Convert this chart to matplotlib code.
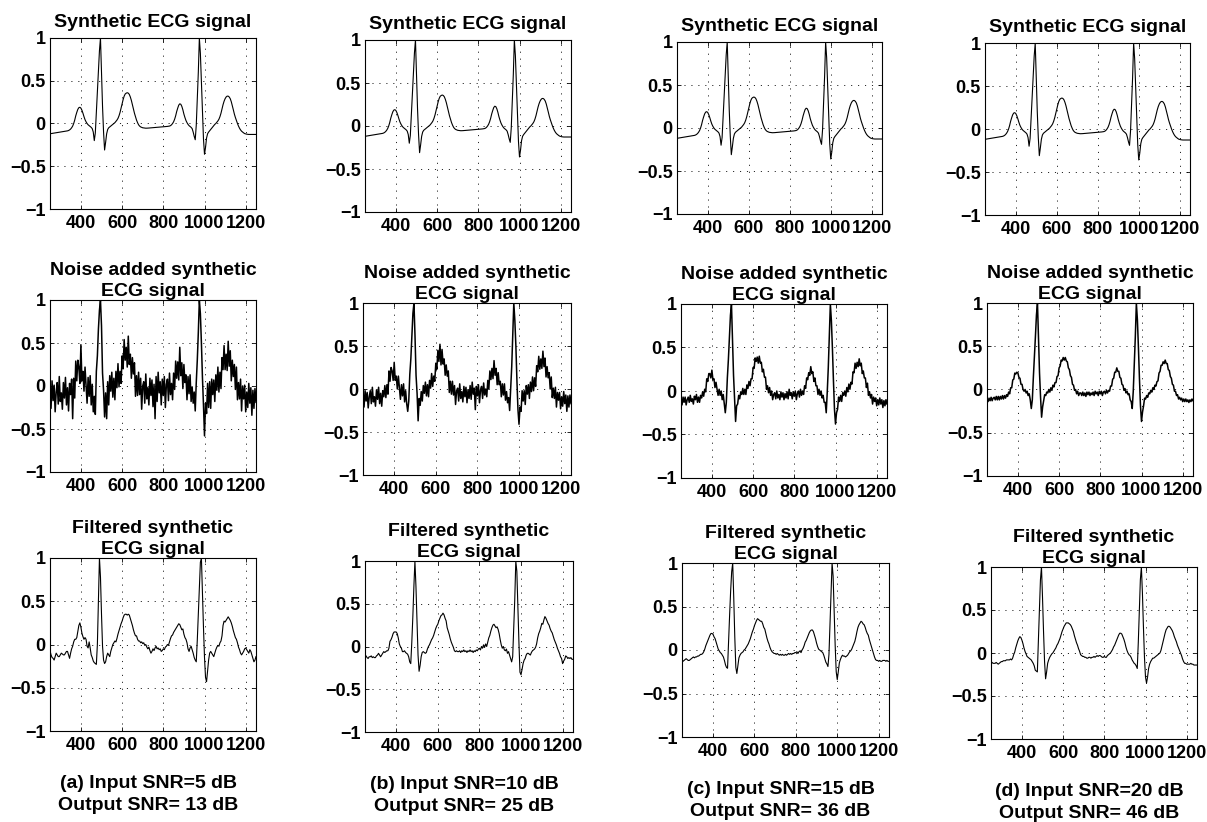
import numpy as np
import matplotlib.pyplot as plt

plt.rcParams['font.family'] = ['Liberation Sans', 'DejaVu Sans']
plt.rcParams['font.weight'] = 'bold'
plt.rcParams['lines.scale_dashes'] = False

# sample axis (one reading every 5 samples)
t = np.arange(250, 1251, 5)

# synthetic ECG (same in all four columns)
clean = [
    -0.12, -0.118, -0.116, -0.114, -0.112, -0.11, -0.108, -0.106, -0.104, -0.102, -0.10, -0.098, -0.096, -0.094, -0.092, -0.09, -0.088, -0.086, -0.082, -0.075,
    -0.065, -0.05, -0.03, 0.0, 0.04, 0.09, 0.13, 0.165, 0.185, 0.19, 0.18, 0.155, 0.12, 0.08, 0.045, 0.02, 0.0, -0.015, -0.025, -0.035,
    -0.045, -0.06, -0.1, -0.2, -0.11, 0.13, 0.37, 0.61, 0.85, 1.0, 0.6, 0.2, -0.1, -0.31, -0.22, -0.12, -0.07, -0.05, -0.04, -0.03,
    -0.02, -0.01, 0.0, 0.01, 0.025, 0.04, 0.06, 0.09, 0.13, 0.18, 0.23, 0.28, 0.32, 0.345, 0.355, 0.36, 0.355, 0.34, 0.31, 0.27,
    0.22, 0.17, 0.12, 0.08, 0.04, 0.01, -0.015, -0.03, -0.04, -0.045, -0.05, -0.052, -0.054, -0.055, -0.055, -0.054, -0.053, -0.052, -0.051, -0.05,
    -0.049, -0.048, -0.047, -0.046, -0.045, -0.044, -0.043, -0.042, -0.041, -0.04, -0.039, -0.038, -0.037, -0.036, -0.034, -0.032, -0.03, -0.025, -0.015, 0.0,
    0.02, 0.05, 0.09, 0.14, 0.18, 0.215, 0.23, 0.225, 0.2, 0.16, 0.11, 0.07, 0.035, 0.01, -0.01, -0.025, -0.035, -0.045, -0.06, -0.1,
    -0.15, -0.19, -0.02, 0.28, 0.6, 1.0, 0.82, 0.48, 0.14, -0.18, -0.36, -0.28, -0.17, -0.12, -0.1, -0.085, -0.07, -0.055, -0.04, -0.025,
    -0.01, 0.0, 0.015, 0.03, 0.05, 0.08, 0.12, 0.17, 0.22, 0.26, 0.29, 0.31, 0.32, 0.32, 0.31, 0.29, 0.255, 0.21, 0.16, 0.11,
    0.07, 0.035, 0.0, -0.03, -0.055, -0.075, -0.09, -0.1, -0.11, -0.118, -0.122, -0.125, -0.127, -0.128, -0.128, -0.128, -0.128, -0.128, -0.128, -0.128,
    -0.128,
]

noisy_5db = [
    -0.04, -0.26, 0.06, -0.17, 0.01, -0.30, -0.07, 0.04, -0.21, 0.11, -0.18, -0.08, -0.27, 0.04, -0.14, 0.10, -0.22, -0.02, -0.29, 0.03,
    -0.10, 0.08, -0.38, 0.09, -0.14, 0.29, 0.06, 0.30, 0.22, 0.03, 0.48, 0.06, 0.17, -0.06, 0.22, 0.00, -0.20, 0.10, -0.12, 0.12,
    -0.22, 0.02, -0.30, -0.12, -0.33, 0.17, 0.35, 0.66, 0.88, 1.0, 0.7, 0.15, -0.05, -0.36, -0.08, -0.38, 0.05, -0.22, 0.12, -0.06,
    0.16, -0.13, 0.09, -0.16, 0.17, -0.02, 0.26, -0.01, 0.17, 0.03, 0.35, 0.2, 0.54, 0.3, 0.45, 0.22, 0.58, 0.25, 0.37, 0.09,
    0.33, 0.14, 0.27, -0.12, 0.12, -0.11, 0.16, -0.1, 0.09, -0.27, 0.0, 0.05, -0.2, 0.14, -0.15, -0.02, -0.22, 0.09, -0.11, 0.07,
    -0.24, 0.02, -0.38, 0.11, -0.18, 0.16, -0.08, 0.05, -0.22, 0.08, -0.11, 0.11, -0.25, 0.02, 0.08, -0.17, 0.15, -0.1, 0.03, -0.16,
    0.15, -0.04, 0.29, 0.09, 0.28, 0.07, 0.45, 0.12, 0.27, -0.03, 0.25, 0.04, 0.13, -0.16, 0.11, -0.09, 0.13, -0.18, -0.01, -0.2,
    -0.07, -0.29, 0.04, 0.3, 0.62, 1.0, 0.84, 0.5, 0.1, -0.22, -0.58, -0.2, -0.32, 0.03, -0.25, 0.05, -0.26, 0.08, -0.1, 0.07,
    -0.18, 0.13, -0.05, 0.22, -0.07, 0.16, -0.03, 0.33, 0.19, 0.47, 0.19, 0.37, 0.18, 0.52, 0.23, 0.41, 0.06, 0.3, 0.11, 0.25,
    -0.04, 0.22, -0.16, 0.04, -0.15, 0.08, -0.29, 0.0, -0.15, 0.01, -0.3, -0.07, -0.25, 0.03, -0.2, -0.02, -0.34, -0.05, -0.26, -0.03,
    -0.19,
]

noisy_10db = [
    -0.07, -0.21, -0.02, -0.14, -0.04, -0.22, -0.09, -0.02, -0.17, 0.02, -0.15, -0.09, -0.2, -0.01, -0.12, 0.02, -0.17, -0.05, -0.2, -0.02,
    -0.09, 0.04, -0.1, 0.05, -0.06, 0.21, 0.09, 0.25, 0.21, 0.1, 0.31, 0.1, 0.15, 0.0, 0.15, 0.01, -0.12, 0.05, -0.08, 0.06,
    -0.15, -0.02, -0.17, -0.26, -0.14, 0.17, 0.35, 0.61, 0.88, 1.0, 0.62, 0.16, -0.05, -0.37, -0.11, -0.19, -0.03, -0.14, 0.04, -0.05,
    0.08, -0.08, 0.05, -0.09, 0.1, 0.01, 0.18, 0.03, 0.15, 0.09, 0.3, 0.23, 0.45, 0.32, 0.52, 0.28, 0.46, 0.29, 0.35, 0.16,
    0.28, 0.15, 0.21, -0.04, 0.09, -0.06, 0.09, -0.07, 0.04, -0.18, -0.02, 0.01, -0.14, 0.06, -0.11, -0.03, -0.15, 0.03, -0.09, 0.02,
    -0.16, -0.01, -0.11, 0.04, -0.12, 0.08, -0.06, 0.01, -0.24, 0.03, -0.08, 0.05, -0.16, -0.01, 0.03, -0.11, 0.07, -0.07, 0.0, -0.09,
    0.1, 0.0, 0.21, 0.11, 0.24, 0.12, 0.33, 0.16, 0.24, 0.05, 0.19, 0.05, 0.09, -0.09, 0.06, -0.07, 0.06, -0.13, -0.03, -0.16,
    -0.1, -0.25, 0.01, 0.26, 0.63, 1.0, 0.8, 0.5, 0.1, -0.24, -0.41, -0.21, -0.26, -0.02, -0.14, -0.02, -0.18, 0.04, -0.06, 0.05,
    -0.11, 0.08, -0.03, 0.14, -0.02, 0.13, 0.03, 0.27, 0.2, 0.38, 0.23, 0.35, 0.24, 0.44, 0.26, 0.36, 0.14, 0.26, 0.13, 0.19,
    0.0, 0.14, -0.1, 0.01, -0.11, 0.02, -0.21, -0.04, -0.13, -0.04, -0.23, -0.09, -0.2, -0.03, -0.17, -0.07, -0.26, -0.08, -0.21, -0.07,
    -0.17,
]

noisy_15db = [
    -0.09, -0.16, -0.07, -0.13, -0.07, -0.16, -0.1, -0.07, -0.13, -0.05, -0.12, -0.09, -0.15, -0.06, -0.1, -0.04, -0.13, -0.07, -0.13, -0.05,
    -0.08, -0.01, -0.06, 0.02, -0.01, 0.14, 0.11, 0.2, 0.2, 0.15, 0.24, 0.13, 0.14, 0.04, 0.1, 0.02, -0.05, 0.02, -0.05, 0.0,
    -0.1, -0.04, -0.14, -0.25, -0.13, 0.15, 0.36, 0.61, 0.87, 1.0, 0.61, 0.18, -0.08, -0.35, -0.17, -0.15, -0.05, -0.09, -0.01, -0.04,
    0.03, -0.04, 0.02, -0.04, 0.07, 0.03, 0.11, 0.06, 0.14, 0.14, 0.27, 0.26, 0.38, 0.34, 0.39, 0.32, 0.4, 0.32, 0.33, 0.22,
    0.25, 0.16, 0.16, 0.02, 0.06, -0.02, 0.04, -0.05, 0.0, -0.1, -0.04, -0.02, -0.09, 0.0, -0.08, -0.04, -0.1, -0.01, -0.07, -0.02,
    -0.1, -0.03, -0.08, -0.01, -0.09, 0.02, -0.05, -0.02, -0.09, -0.01, -0.06, 0.0, -0.1, -0.03, 0.0, -0.07, 0.02, -0.05, 0.0, -0.04,
    0.06, 0.03, 0.15, 0.13, 0.21, 0.18, 0.28, 0.2, 0.22, 0.11, 0.15, 0.06, 0.06, -0.04, 0.02, -0.05, 0.0, -0.08, -0.05, -0.13,
    -0.13, -0.25, -0.01, 0.27, 0.62, 1.0, 0.81, 0.49, 0.12, -0.21, -0.38, -0.25, -0.21, -0.07, -0.12, -0.05, -0.12, -0.02, -0.05, 0.0,
    -0.06, 0.04, -0.01, 0.08, 0.02, 0.1, 0.08, 0.22, 0.21, 0.32, 0.26, 0.33, 0.28, 0.37, 0.29, 0.32, 0.2, 0.23, 0.15, 0.15,
    0.04, 0.09, -0.05, -0.01, -0.08, -0.04, -0.15, -0.07, -0.12, -0.08, -0.17, -0.1, -0.16, -0.08, -0.15, -0.1, -0.19, -0.11, -0.17, -0.1,
    -0.15,
]

noisy_20db = [
    -0.1, -0.14, -0.1, -0.13, -0.09, -0.13, -0.1, -0.09, -0.12, -0.08, -0.12, -0.08, -0.12, -0.08, -0.11, -0.07, -0.11, -0.07, -0.1, -0.06,
    -0.08, -0.03, -0.05, 0.02, 0.02, 0.11, 0.12, 0.19, 0.18, 0.2, 0.19, 0.14, 0.13, 0.06, 0.06, 0.0, -0.02, 0.0, -0.04, -0.02,
    -0.07, -0.05, -0.12, -0.22, -0.12, 0.14, 0.37, 0.61, 0.86, 1.0, 0.6, 0.19, -0.09, -0.32, -0.2, -0.13, -0.06, -0.07, -0.03, -0.04,
    0.0, -0.03, 0.02, -0.01, 0.05, 0.03, 0.08, 0.08, 0.15, 0.16, 0.25, 0.27, 0.34, 0.33, 0.37, 0.34, 0.37, 0.33, 0.32, 0.25,
    0.23, 0.16, 0.14, 0.06, 0.05, -0.01, 0.0, -0.05, -0.02, -0.07, -0.04, -0.04, -0.07, -0.03, -0.07, -0.04, -0.08, -0.03, -0.06, -0.03,
    -0.07, -0.04, -0.06, -0.03, -0.07, -0.02, -0.05, -0.03, -0.07, -0.02, -0.05, -0.02, -0.07, -0.03, -0.02, -0.05, -0.01, -0.04, -0.01, -0.02,
    0.04, 0.04, 0.12, 0.13, 0.2, 0.2, 0.25, 0.21, 0.21, 0.14, 0.13, 0.06, 0.05, -0.01, 0.01, -0.04, -0.02, -0.06, -0.05, -0.12,
    -0.14, -0.22, -0.02, 0.28, 0.61, 1.0, 0.81, 0.49, 0.13, -0.19, -0.37, -0.26, -0.19, -0.1, -0.11, -0.07, -0.09, -0.04, -0.05, -0.01,
    -0.03, 0.02, 0.0, 0.05, 0.04, 0.09, 0.1, 0.19, 0.21, 0.28, 0.28, 0.32, 0.3, 0.34, 0.3, 0.3, 0.23, 0.22, 0.15, 0.13,
    0.06, 0.05, -0.02, -0.02, -0.07, -0.06, -0.11, -0.09, -0.12, -0.1, -0.14, -0.11, -0.14, -0.11, -0.14, -0.12, -0.15, -0.12, -0.14, -0.11,
    -0.13,
]

filtered_5db = [
    -0.07, -0.12, -0.15, -0.16, -0.18, -0.14, -0.1, -0.12, -0.14, -0.14, -0.12, -0.1, -0.11, -0.12, -0.12, -0.1, -0.08, -0.08, -0.12, -0.16,
    -0.1, -0.05, -0.02, 0.03, 0.06, 0.06, 0.08, 0.15, 0.22, 0.25, 0.2, 0.13, 0.09, 0.06, 0.08, 0.06, -0.02, -0.04, 0.03, -0.04,
    -0.12, -0.15, -0.19, -0.21, -0.22, -0.23, 0.0, 0.5, 1.0, 0.78, 0.35, -0.02, -0.18, -0.22, -0.2, -0.14, -0.1, -0.12, -0.14, -0.08,
    -0.04, 0.0, 0.02, 0.04, 0.03, 0.07, 0.12, 0.16, 0.2, 0.24, 0.27, 0.31, 0.34, 0.35, 0.35, 0.34, 0.35, 0.34, 0.3, 0.26,
    0.22, 0.17, 0.13, 0.1, 0.1, 0.06, 0.04, 0.04, 0.02, 0.03, 0.01, 0.02, -0.01, 0.0, -0.03, -0.05, -0.03, -0.07, -0.1, -0.08,
    -0.05, -0.07, -0.04, -0.02, -0.05, -0.04, -0.06, -0.05, -0.08, -0.07, -0.05, -0.06, -0.03, -0.02, 0.0, -0.01, 0.03, 0.07, 0.1, 0.11,
    0.14, 0.16, 0.18, 0.2, 0.22, 0.24, 0.23, 0.2, 0.17, 0.18, 0.12, 0.08, 0.06, 0.02, -0.05, -0.08, -0.04, -0.02, -0.06, -0.1,
    -0.15, -0.18, -0.2, 0.05, 0.35, 0.65, 0.95, 1.0, 0.6, 0.2, -0.15, -0.38, -0.43, -0.3, -0.18, -0.1, -0.08, -0.1, -0.12, -0.14,
    -0.1, -0.06, -0.03, -0.01, -0.02, 0.02, 0.04, 0.1, 0.22, 0.27, 0.26, 0.28, 0.3, 0.32, 0.3, 0.28, 0.25, 0.21, 0.16, 0.12,
    0.08, 0.06, 0.02, -0.03, -0.06, -0.1, -0.12, -0.1, -0.08, -0.05, -0.04, -0.06, -0.08, -0.1, -0.06, -0.08, -0.12, -0.16, -0.2, -0.18,
    -0.14,
]

filtered_10db = [
    -0.1, -0.11, -0.13, -0.14, -0.12, -0.12, -0.11, -0.13, -0.12, -0.13, -0.13, -0.11, -0.1, -0.08, -0.1, -0.12, -0.1, -0.08, -0.06, -0.07,
    -0.06, -0.05, -0.05, -0.02, 0.06, 0.08, 0.11, 0.15, 0.17, 0.17, 0.17, 0.15, 0.1, 0.03, 0.0, -0.02, -0.06, -0.06, -0.05, -0.07,
    -0.08, -0.09, -0.12, -0.18, -0.2, 0.05, 0.35, 0.7, 1.0, 0.7, 0.3, -0.1, -0.29, -0.22, -0.12, -0.07, -0.06, -0.07, -0.08, -0.07,
    -0.03, 0.0, 0.02, 0.05, 0.08, 0.1, 0.13, 0.17, 0.21, 0.24, 0.26, 0.3, 0.33, 0.36, 0.37, 0.39, 0.37, 0.33, 0.3, 0.22,
    0.18, 0.14, 0.09, 0.05, 0.02, -0.01, -0.05, -0.06, -0.05, -0.06, -0.06, -0.05, -0.07, -0.05, -0.06, -0.04, -0.06, -0.05, -0.07, -0.05,
    -0.06, -0.04, -0.06, -0.05, -0.07, -0.05, -0.06, -0.04, -0.05, -0.03, -0.02, -0.04, 0.0, -0.02, 0.02, -0.01, 0.03, 0.0, 0.05, 0.1,
    0.13, 0.18, 0.22, 0.25, 0.26, 0.24, 0.22, 0.23, 0.2, 0.15, 0.08, 0.02, -0.02, 0.0, -0.04, -0.05, -0.03, -0.08, -0.06, -0.1,
    -0.14, -0.18, -0.12, 0.2, 0.55, 1.0, 0.88, 0.45, 0.05, -0.3, -0.33, -0.27, -0.2, -0.16, -0.14, -0.1, -0.08, -0.08, -0.09, -0.1,
    -0.07, -0.05, -0.04, -0.03, -0.01, 0.03, 0.1, 0.15, 0.18, 0.22, 0.27, 0.26, 0.31, 0.35, 0.33, 0.3, 0.27, 0.25, 0.21, 0.18,
    0.16, 0.12, 0.08, 0.05, 0.02, -0.02, -0.05, -0.08, -0.12, -0.14, -0.2, -0.17, -0.15, -0.11, -0.12, -0.14, -0.13, -0.14, -0.13, -0.15,
    -0.15,
]

filtered_15db = [
    -0.13, -0.13, -0.12, -0.11, -0.1, -0.11, -0.12, -0.12, -0.11, -0.1, -0.09, -0.08, -0.09, -0.08, -0.08, -0.07, -0.07, -0.06, -0.05, -0.05,
    -0.04, -0.02, 0.01, 0.05, 0.08, 0.11, 0.14, 0.17, 0.19, 0.19, 0.18, 0.15, 0.13, 0.09, 0.05, 0.01, -0.01, -0.03, -0.04, -0.06,
    -0.08, -0.12, -0.17, -0.2, -0.21, 0.1, 0.4, 0.68, 0.9, 1.0, 0.6, 0.15, -0.2, -0.27, -0.18, -0.09, -0.06, -0.04, -0.03, -0.02,
    0.0, 0.01, 0.03, 0.05, 0.07, 0.1, 0.13, 0.17, 0.21, 0.24, 0.28, 0.31, 0.34, 0.36, 0.35, 0.34, 0.33, 0.33, 0.3, 0.26,
    0.24, 0.19, 0.14, 0.1, 0.07, 0.03, 0.0, -0.02, -0.03, -0.04, -0.04, -0.05, -0.04, -0.05, -0.06, -0.05, -0.06, -0.05, -0.06, -0.06,
    -0.05, -0.06, -0.05, -0.04, -0.05, -0.04, -0.05, -0.04, -0.04, -0.03, -0.03, -0.02, -0.04, -0.02, -0.01, -0.03, 0.0, 0.02, 0.05, 0.09,
    0.11, 0.14, 0.17, 0.2, 0.22, 0.23, 0.23, 0.21, 0.17, 0.13, 0.08, 0.04, 0.01, 0.0, -0.01, -0.02, -0.03, -0.06, -0.1, -0.14,
    -0.16, -0.19, -0.05, 0.3, 0.65, 1.0, 0.85, 0.45, 0.05, -0.25, -0.34, -0.25, -0.15, -0.11, -0.08, -0.06, -0.07, -0.07, -0.08, -0.07,
    -0.06, -0.04, -0.02, -0.01, 0.01, 0.04, 0.07, 0.1, 0.15, 0.21, 0.26, 0.29, 0.31, 0.33, 0.32, 0.3, 0.29, 0.26, 0.22, 0.19,
    0.17, 0.12, 0.08, 0.04, 0.0, -0.04, -0.08, -0.11, -0.12, -0.12, -0.13, -0.12, -0.13, -0.13, -0.12, -0.12, -0.12, -0.13, -0.12, -0.13,
    -0.13,
]

filtered_20db = [
    -0.1, -0.11, -0.12, -0.12, -0.12, -0.11, -0.12, -0.13, -0.12, -0.11, -0.1, -0.1, -0.09, -0.09, -0.09, -0.08, -0.08, -0.08, -0.08, -0.07,
    -0.08, -0.06, -0.02, 0.01, 0.06, 0.1, 0.14, 0.17, 0.19, 0.18, 0.15, 0.11, 0.06, 0.02, -0.01, -0.04, -0.05, -0.06, -0.07, -0.08,
    -0.1, -0.12, -0.15, -0.2, -0.21, -0.22, 0.15, 0.5, 0.85, 1.0, 0.65, 0.25, -0.1, -0.3, -0.22, -0.12, -0.08, -0.05, -0.03, -0.01,
    0.0, 0.02, 0.04, 0.06, 0.09, 0.11, 0.14, 0.17, 0.21, 0.25, 0.28, 0.31, 0.33, 0.35, 0.35, 0.35, 0.34, 0.33, 0.31, 0.28,
    0.25, 0.2, 0.16, 0.12, 0.09, 0.05, 0.02, -0.02, -0.03, -0.04, -0.04, -0.05, -0.05, -0.06, -0.06, -0.05, -0.05, -0.06, -0.05, -0.05,
    -0.04, -0.05, -0.04, -0.03, -0.04, -0.03, -0.03, -0.04, -0.05, -0.05, -0.04, -0.05, -0.05, -0.03, -0.02, -0.01, 0.0, 0.02, 0.04, 0.07,
    0.09, 0.12, 0.15, 0.18, 0.21, 0.23, 0.23, 0.22, 0.19, 0.16, 0.12, 0.07, 0.03, 0.0, -0.02, -0.03, -0.05, -0.08, -0.1, -0.12,
    -0.13, -0.15, -0.18, 0.12, 0.48, 0.85, 1.0, 0.7, 0.3, -0.05, -0.28, -0.35, -0.28, -0.18, -0.13, -0.1, -0.08, -0.06, -0.06, -0.05,
    -0.04, -0.03, -0.02, -0.01, 0.0, 0.03, 0.08, 0.13, 0.18, 0.23, 0.27, 0.29, 0.31, 0.31, 0.3, 0.28, 0.26, 0.23, 0.19, 0.16,
    0.13, 0.09, 0.06, 0.03, 0.0, -0.03, -0.07, -0.1, -0.12, -0.12, -0.13, -0.13, -0.13, -0.13, -0.12, -0.13, -0.13, -0.14, -0.14, -0.14,
    -0.14,
]

row_titles = ['Synthetic ECG signal',
              'Noise added synthetic\nECG signal',
              'Filtered synthetic\nECG signal']
captions = [('(a) Input SNR=5 dB', 'Output SNR= 13 dB'),
            ('(b) Input SNR=10 dB', 'Output SNR= 25 dB'),
            ('(c) Input SNR=15 dB', 'Output SNR= 36 dB'),
            ('(d) Input SNR=20 dB', 'Output SNR= 46 dB')]
noisy = [noisy_5db, noisy_10db, noisy_15db, noisy_20db]
filtered = [filtered_5db, filtered_10db, filtered_15db, filtered_20db]
xticks = [400, 600, 800, 1000, 1200]
yticks = [-1, -0.5, 0, 0.5, 1]
ytick_labels = ['\u22121', '\u22120.5', '0', '0.5', '1']

# axes boxes in pixels: (left, top, right, bottom), [row][col]
W, H = 1207, 822
boxes = [
    [(50, 38, 256, 209), (365, 40, 571, 212), (677, 42, 882, 214), (985, 43, 1190, 215)],
    [(50, 300, 256, 472), (363, 303, 571, 475), (681, 304, 887, 478), (987, 303, 1193, 476)],
    [(50, 558, 256, 731), (365, 561, 573, 732), (682, 563, 889, 737), (991, 567, 1197, 739)],
]

fig = plt.figure(figsize=(W / 100, H / 100), dpi=100)

for col in range(4):
    series = [clean, noisy[col], filtered[col]]
    for row in range(3):
        l, tp, r, b = boxes[row][col]
        ax = fig.add_axes([l / W, 1 - b / H, (r - l) / W, (b - tp) / H])
        ax.plot(t, series[row], color='black', lw=1.1 if row == 1 else 0.8)
        ax.set_xlim(250, 1250)
        ax.set_ylim(-1, 1)
        ax.set_xticks(xticks)
        ax.set_yticks(yticks)
        ax.set_yticklabels(ytick_labels)
        ax.tick_params(direction='in', length=3, width=0.6, top=True, right=True,
                       labelsize=13)
        ax.tick_params(axis='x', pad=4)
        ax.tick_params(axis='y', pad=3)
        ax.grid(True, color='black', lw=0.6, linestyle=(0, (0.8, 4.2)))
        for s in ax.spines.values():
            s.set_linewidth(0.8)
        ax.set_title(row_titles[row], fontsize=14, fontweight='bold',
                     pad=8 if row == 0 else 3, linespacing=1.3)

    l, tp, r, b = boxes[2][col]
    cx = (l + r) / 2 - 5
    fig.text(cx / W, 1 - (b + 52) / H, captions[col][0], ha='center', va='center',
             fontsize=14, fontweight='bold')
    fig.text(cx / W, 1 - (b + 74) / H, captions[col][1], ha='center', va='center',
             fontsize=14, fontweight='bold')

fig.savefig('out.png', dpi=100)
